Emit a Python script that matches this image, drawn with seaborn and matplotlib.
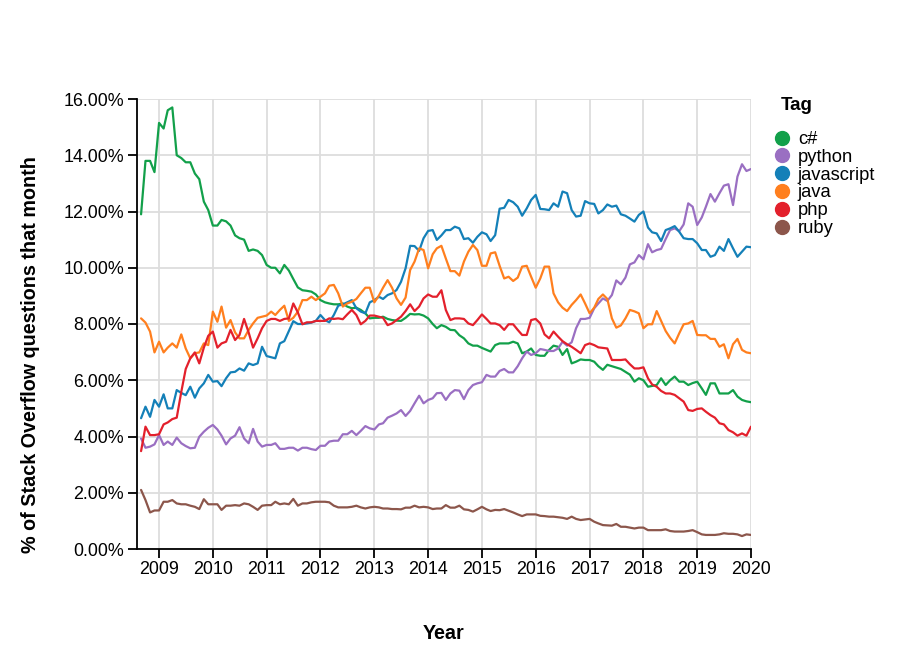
import matplotlib
matplotlib.use("Agg")
import matplotlib.pyplot as plt
import matplotlib.dates as mdates
from matplotlib.ticker import PercentFormatter, MultipleLocator
from matplotlib.lines import Line2D
import seaborn as sns
import pandas as pd

# ---------------- data (monthly share of questions, %) ----------------
tags = ["c#", "python", "javascript", "java", "php", "ruby"]
colors = ["#12a04a", "#9a6fc2", "#1480b8", "#ff7f1e", "#e3202c", "#8c564b"]
first_month = "2008-09-01"

csharp = [
    11.9, 13.8, 13.8, 13.4,
    15.15, 14.95, 15.6, 15.7, 14.0, 13.9, 13.75, 13.75, 13.35, 13.15, 12.35, 12.05,
    11.5, 11.5, 11.7, 11.65, 11.5, 11.15, 11.05, 11.0, 10.6, 10.65, 10.6, 10.45,
    10.1, 10.0, 10.0, 9.8, 10.1, 9.9, 9.6, 9.3, 9.2, 9.18, 9.15, 9.05,
    8.85, 8.77, 8.73, 8.7, 8.7, 8.73, 8.62, 8.56, 8.58, 8.5, 8.38, 8.2,
    8.22, 8.22, 8.26, 8.18, 8.14, 8.12, 8.11, 8.22, 8.36, 8.34, 8.35, 8.3,
    8.2, 8.0, 7.85, 7.96, 7.9, 7.79, 7.78, 7.6, 7.49, 7.31, 7.23, 7.23,
    7.15, 7.08, 7.02, 7.25, 7.31, 7.31, 7.31, 7.37, 7.31, 6.96, 7.02, 7.13,
    6.9, 6.87, 6.87, 7.08, 7.23, 7.19, 6.9, 7.11, 6.6, 6.66, 6.74, 6.72,
    6.72, 6.66, 6.5, 6.37, 6.55, 6.5, 6.45, 6.4, 6.3, 6.2, 5.95, 6.07,
    6.0, 5.77, 5.8, 5.83, 6.07, 5.83, 6.0, 6.13, 5.95, 5.95, 5.83, 5.9,
    5.95, 5.71, 5.48, 5.89, 5.89, 5.53, 5.53, 5.53, 5.65, 5.42, 5.3, 5.25,
    5.22,
]

python = [
    3.93, 3.6, 3.64, 3.72,
    4.05, 3.7, 3.82, 3.7, 3.96, 3.76, 3.66, 3.58, 3.6, 3.99, 4.17, 4.31,
    4.41, 4.25, 4.03, 3.72, 3.93, 4.03, 4.33, 3.93, 3.76, 4.27, 3.82, 3.64,
    3.7, 3.7, 3.76, 3.56, 3.56, 3.6, 3.6, 3.5, 3.6, 3.6, 3.55, 3.52,
    3.67, 3.67, 3.82, 3.85, 3.85, 4.08, 4.08, 4.2, 4.05, 4.2, 4.37, 4.29,
    4.25, 4.43, 4.47, 4.67, 4.74, 4.82, 4.94, 4.73, 4.91, 5.18, 5.45, 5.18,
    5.3, 5.36, 5.54, 5.55, 5.3, 5.53, 5.65, 5.63, 5.33, 5.65, 5.83, 5.89,
    5.93, 6.19, 6.13, 6.13, 6.33, 6.4, 6.28, 6.28, 6.5, 6.78, 7.02, 6.9,
    6.96, 7.11, 7.08, 7.04, 7.04, 7.13, 7.37, 7.23, 7.35, 7.85, 8.18, 8.18,
    8.22, 8.56, 8.73, 8.91, 8.82, 9.03, 9.55, 9.41, 9.65, 10.12, 10.19, 10.45,
    10.3, 10.84, 10.55, 10.63, 10.67, 11.02, 11.34, 11.4, 11.3, 11.54, 12.29, 12.17,
    11.52, 11.79, 12.17, 12.62, 12.35, 12.65, 12.92, 12.97, 12.23, 13.24, 13.68, 13.44,
    13.51,
]

javascript = [
    4.65, 5.06, 4.7, 5.3,
    5.06, 5.5, 5.0, 5.0, 5.65, 5.55, 5.47, 5.77, 5.38, 5.71, 5.89, 6.19,
    5.95, 5.97, 5.79, 6.07, 6.28, 6.3, 6.42, 6.34, 6.6, 6.54, 6.6, 7.19,
    6.86, 6.82, 6.78, 7.31, 7.39, 7.75, 8.1, 8.0, 8.0, 8.02, 8.05, 8.11,
    8.32, 8.14, 8.06, 8.32, 8.65, 8.7, 8.77, 8.85, 8.56, 8.44, 8.38, 8.77,
    8.85, 8.97, 8.89, 9.03, 9.09, 9.21, 9.5, 9.98, 10.78, 10.77, 10.6, 11.05,
    11.31, 11.34, 10.99, 11.15, 11.34, 11.34, 11.46, 11.4, 11.02, 11.05, 10.89, 11.1,
    11.26, 11.19, 10.95, 11.16, 12.1, 12.13, 12.41, 12.33, 12.17, 11.85, 12.11, 12.41,
    12.59, 12.09, 12.08, 12.05, 12.29, 12.17, 12.71, 12.65, 12.05, 11.82, 11.85, 12.37,
    12.29, 12.27, 11.93, 12.05, 12.25, 12.17, 12.21, 11.9, 11.85, 11.75, 11.64, 11.88,
    12.0, 11.43, 11.26, 11.22, 10.95, 11.34, 11.4, 11.48, 11.28, 11.05, 11.02, 11.02,
    10.87, 10.63, 10.63, 10.39, 10.45, 10.75, 10.6, 11.02, 10.69, 10.39, 10.57, 10.75,
    10.73,
]

java = [
    8.2, 8.05, 7.73, 6.99,
    7.37, 6.99, 7.16, 7.31, 7.16, 7.63, 7.13, 6.78, 6.96, 6.99, 7.31, 7.25,
    8.44, 8.08, 8.62, 7.87, 8.14, 7.7, 7.49, 7.49, 7.79, 8.02, 8.22, 8.26,
    8.3, 8.44, 8.32, 8.5, 8.65, 8.11, 8.22, 8.44, 8.85, 8.85, 8.97, 8.85,
    8.97, 9.09, 9.36, 9.39, 9.09, 8.62, 8.73, 8.79, 8.89, 9.09, 9.29, 9.29,
    8.77, 9.01, 9.29, 9.56, 9.29, 8.91, 8.68, 8.94, 9.92, 10.22, 10.69, 10.63,
    9.98, 10.48, 10.69, 10.78, 10.33, 9.88, 9.88, 9.72, 10.22, 10.57, 10.81, 10.63,
    10.07, 10.07, 10.51, 10.55, 10.07, 9.62, 9.68, 9.53, 9.65, 10.04, 10.07, 9.68,
    9.29, 9.62, 10.04, 10.04, 9.09, 8.77, 8.58, 8.46, 8.68, 8.85, 9.05, 8.73,
    8.38, 8.58, 8.89, 9.05, 8.89, 8.2, 7.87, 7.95, 8.2, 8.5, 8.45, 8.38,
    7.85, 7.99, 7.99, 8.46, 8.11, 7.75, 7.51, 7.31, 7.67, 7.99, 8.02, 8.11,
    7.61, 7.6, 7.6, 7.47, 7.47, 7.19, 7.28, 6.78, 7.28, 7.47, 7.08, 6.99,
    6.96,
]

php = [
    3.48, 4.35, 4.05, 4.05,
    4.08, 4.43, 4.5, 4.62, 4.67, 5.59, 6.4, 6.78, 6.99, 6.6, 7.16, 7.58,
    7.73, 7.16, 7.31, 7.37, 7.79, 7.43, 7.61, 8.18, 7.7, 7.16, 7.49, 7.85,
    8.11, 8.18, 8.18, 8.11, 8.18, 8.2, 8.73, 8.41, 7.99, 8.06, 8.06, 8.11,
    8.11, 8.11, 8.2, 8.18, 8.2, 8.17, 8.34, 8.5, 8.32, 7.99, 8.11, 8.3,
    8.3, 8.26, 8.22, 7.96, 8.02, 8.14, 8.26, 8.46, 8.7, 8.46, 8.62, 8.91,
    9.05, 8.97, 8.97, 9.2, 8.5, 8.14, 8.2, 8.2, 8.18, 8.02, 7.96, 8.14,
    8.34, 8.18, 8.02, 8.02, 7.96, 7.79, 7.99, 7.99, 7.79, 7.61, 7.61, 8.14,
    8.18, 8.02, 7.63, 7.49, 7.73, 7.55, 7.39, 7.28, 7.19, 7.08, 6.96, 7.25,
    7.31, 7.25, 7.17, 7.15, 7.13, 6.72, 6.72, 6.72, 6.74, 6.57, 6.42, 6.42,
    6.46, 6.07, 5.85, 5.77, 5.62, 5.53, 5.53, 5.48, 5.36, 5.24, 4.94, 4.91,
    4.98, 5.0, 4.88, 4.76, 4.67, 4.47, 4.43, 4.23, 4.15, 4.03, 4.11, 4.03,
    4.35,
]

ruby = [
    2.1, 1.74, 1.3, 1.37,
    1.37, 1.68, 1.68, 1.74, 1.62, 1.59, 1.59, 1.54, 1.5, 1.42, 1.77, 1.59,
    1.59, 1.59, 1.39, 1.54, 1.54, 1.56, 1.54, 1.62, 1.59, 1.5, 1.39, 1.54,
    1.56, 1.56, 1.68, 1.59, 1.62, 1.59, 1.78, 1.54, 1.62, 1.62, 1.66, 1.68,
    1.68, 1.68, 1.66, 1.54, 1.48, 1.48, 1.48, 1.5, 1.54, 1.48, 1.44, 1.48,
    1.5, 1.48, 1.44, 1.44, 1.42, 1.42, 1.41, 1.47, 1.47, 1.54, 1.48, 1.5,
    1.48, 1.42, 1.44, 1.44, 1.56, 1.47, 1.47, 1.54, 1.41, 1.39, 1.33, 1.41,
    1.5, 1.41, 1.35, 1.39, 1.38, 1.42, 1.36, 1.3, 1.23, 1.17, 1.23, 1.23,
    1.23, 1.18, 1.17, 1.15, 1.15, 1.13, 1.11, 1.07, 1.15, 1.07, 1.03, 1.05,
    1.07, 0.97, 0.91, 0.85, 0.84, 0.83, 0.89, 0.79, 0.79, 0.76, 0.73, 0.76,
    0.76, 0.67, 0.67, 0.67, 0.67, 0.7, 0.64, 0.62, 0.62, 0.62, 0.64, 0.67,
    0.6, 0.52, 0.5, 0.5, 0.5, 0.52, 0.56, 0.54, 0.54, 0.52, 0.46, 0.52,
    0.5,
]

series = [csharp, python, javascript, java, php, ruby]

# ---------------- build long table ----------------
frames = []
for tag, vals in zip(tags, series):
    dates = pd.date_range(first_month, periods=len(vals), freq="MS")
    frames.append(pd.DataFrame({"Year": dates, "share": vals, "Tag": tag}))
df = pd.concat(frames, ignore_index=True)
palette = dict(zip(tags, colors))

# ---------------- figure ----------------
sns.set_theme(style="white")
plt.rcParams["font.family"] = ["Liberation Sans", "DejaVu Sans"]

W, H = 901, 651
fig = plt.figure(figsize=(W / 100, H / 100), dpi=100)
L, R, T, B = 136.5, 751, 99, 549
ax = fig.add_axes([L / W, 1 - B / H, (R - L) / W, (B - T) / H])

sns.lineplot(data=df, x="Year", y="share", hue="Tag", hue_order=tags,
             palette=palette, linewidth=1.6, estimator=None, legend=False, ax=ax)

ax.set_xlim(pd.Timestamp("2008-08-01"), pd.Timestamp("2020-01-01"))
ax.set_ylim(0, 16)
ax.yaxis.set_major_locator(MultipleLocator(2))
ax.yaxis.set_major_formatter(PercentFormatter(100, decimals=2))
ax.xaxis.set_major_locator(mdates.YearLocator())
ax.xaxis.set_major_formatter(mdates.DateFormatter("%Y"))

ax.grid(True, color="#dddddd", linewidth=1.3)
ax.set_axisbelow(True)
for s in ["top", "right"]:
    ax.spines[s].set_visible(False)
for s in ["left", "bottom"]:
    ax.spines[s].set_color("black")
    ax.spines[s].set_linewidth(1.3)
ax.tick_params(axis="both", which="major", length=6.5, width=1.3,
               color="black", labelsize=12.9, labelcolor="black", pad=2.5,
               direction="out", bottom=True, left=True)

ax.set_xlabel("Year", fontsize=14.2, fontweight="bold", color="black")
ax.set_ylabel("% of Stack Overflow questions that month", fontsize=14.2,
              fontweight="bold", color="black")
ax.xaxis.set_label_coords(0.5, (B - 624) / (B - T))
ax.yaxis.set_label_coords((40 - L) / (R - L), (B - 355) / (B - T))

# ---------------- legend ----------------
fig.text(781 / W, 1 - 106 / H, "Tag", fontsize=13.5, fontweight="bold",
         color="black", ha="left", va="center")
handles = [Line2D([], [], linestyle="", marker="o", markersize=10,
                  markerfacecolor=c, markeredgecolor=c) for c in colors]
leg = fig.legend(handles, tags, loc="upper left",
                 bbox_to_anchor=(775 / W, 1 - 131 / H), frameon=False,
                 fontsize=13.2, labelcolor="black",
                 handlelength=0.8, handletextpad=0.45, labelspacing=0.045,
                 borderaxespad=0, borderpad=0)

fig.savefig("out.png", dpi=100, facecolor="white")
